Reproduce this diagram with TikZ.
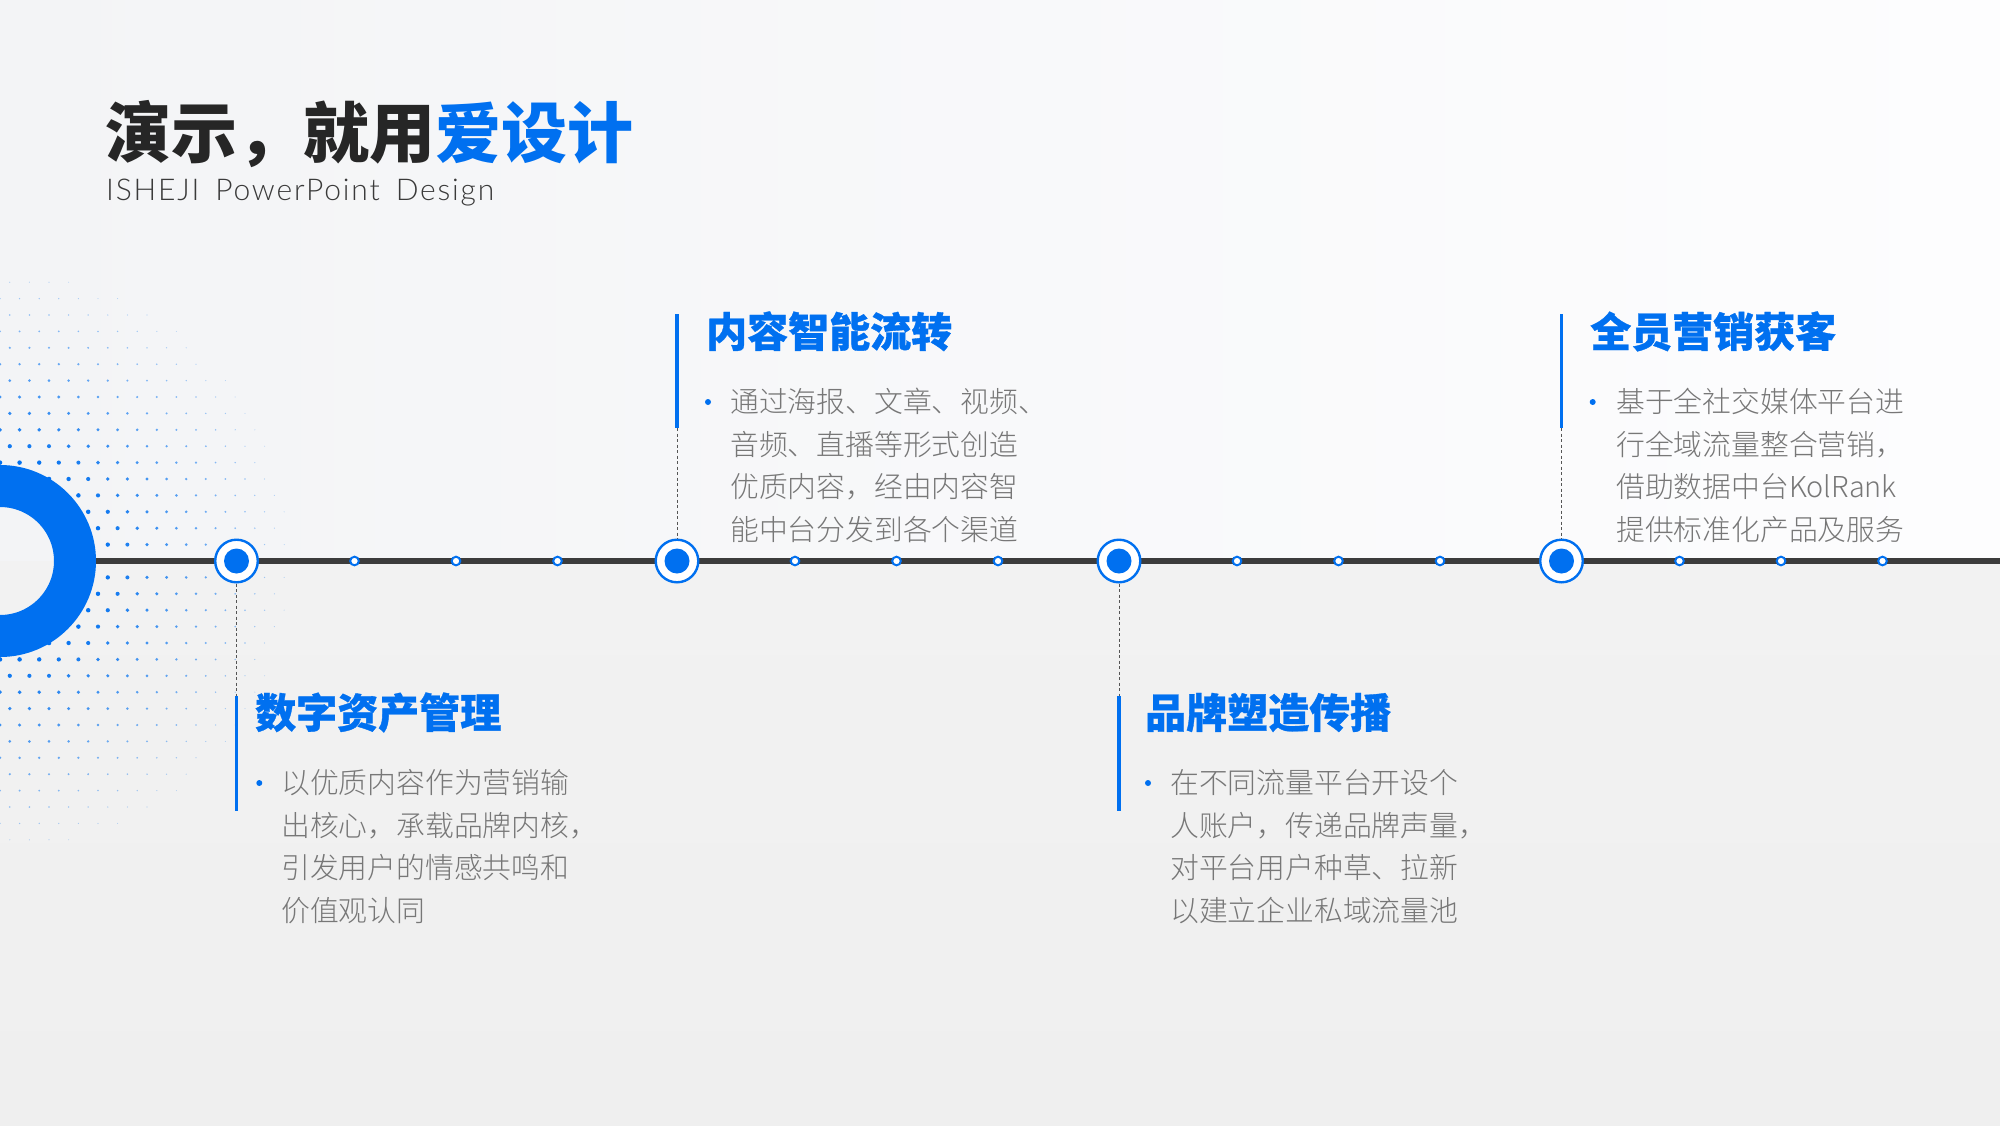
\documentclass[tikz,border=0pt]{standalone}
\usepackage{fontspec}
\newfontfamily\cjk{Noto Sans CJK SC}
\newfontfamily\cjkheavy{Noto Sans CJK SC}[BoldFeatures={FakeBold=0.8}]
\IfFontExistsTF{Noto Sans CJK SC Light}
  {\newfontfamily\cjklight{Noto Sans CJK SC Light}}
  {\IfFontExistsTF{Noto Sans CJK SC DemiLight}
    {\newfontfamily\cjklight{Noto Sans CJK SC DemiLight}}
    {\newfontfamily\cjklight{Noto Sans CJK SC}}}
\IfFontExistsTF{Lato Light}
  {\newfontfamily\subfont[LetterSpace=6]{Lato Light}}
  {\newfontfamily\subfont[LetterSpace=6]{Lato}}
\definecolor{brand}{HTML}{0070F0}
\definecolor{ink}{HTML}{262626}
\definecolor{subink}{HTML}{3A3A3A}
\definecolor{bodygray}{HTML}{777777}
\definecolor{linegray}{HTML}{3C3C3C}
\definecolor{dashgray}{HTML}{555555}
\definecolor{bgTL}{HTML}{F3F4F6}
\definecolor{bgTR}{HTML}{FDFDFE}
\definecolor{bgBT}{HTML}{F2F2F2}
\definecolor{bgBB}{HTML}{EFEFEF}
\begin{document}
\begin{tikzpicture}[x=1pt,y=-1pt,
  bignode/.style={circle, fill=white, draw=brand, line width=2.4pt, minimum size=42.6pt, inner sep=0pt},
  bigdot/.style={circle, fill=brand, minimum size=25pt, inner sep=0pt},
  smallnode/.style={circle, fill=white, draw=brand, line width=2pt, minimum size=8.6pt, inner sep=0pt},
  stembar/.style={draw=brand, line width=3.6pt},
  stemdash/.style={draw=dashgray, line width=0.9pt, dash pattern=on 3pt off 2.5pt},
  itemtitle/.style={anchor=base west, inner sep=0pt, text=brand, font=\cjkheavy\bfseries\fontsize{41}{45}\selectfont},
  bodyline/.style={anchor=base west, inner sep=0pt, text=bodygray, font=\cjklight\fontsize{28.8}{34}\selectfont},
  bulletdot/.style={circle, fill=brand, minimum size=6pt, inner sep=0pt},
  ringstyle/.style={circle, draw=brand, line width=42pt, minimum size=150pt, inner sep=0pt},
]
\useasboundingbox (0,0) rectangle (2000,1125);
% background
\shade[left color=bgTL, right color=bgTR] (0,0) rectangle (2000,561);
\shade[top color=bgBT, bottom color=bgBB] (0,561) rectangle (2000,1125);
% halftone dots
\foreach \k in {-17,...,17}{
  \foreach \n in {0,...,15}{
    \pgfmathsetmacro\dX{\n*19.6+9.8*mod(abs(\k),2)}
    \pgfmathsetmacro\dY{\k*16.4}
    \pgfmathsetmacro\dD{100*sqrt((\dX/100)^2+(\dY/100)^2)}
    \pgfmathsetmacro\dT{(\dD-95)/195}
    \ifdim\dT pt<0.999pt \ifdim\dT pt>0pt
      \pgfmathsetmacro\dR{2.3-1.8*\dT}
      \pgfmathsetmacro\dO{1-0.75*\dT}
      \fill[brand, opacity=\dO] (\dX,{561+\dY}) circle[radius=\dR pt];
    \fi\fi
  }
}
% ring and timeline
\node[ringstyle] (ring) at (0,561) {};
\coordinate (lineend) at (2000,561);
\draw[draw=linegray, line width=5.5pt] (ring.east) -- (lineend);
% nodes
\foreach \nx [count=\i] in {236.5,677,1119,1561.5}{
  \node[bignode] (n\i) at (\nx,561) {};
  \node[bigdot] (d\i) at (\nx,561) {};
  \foreach \off [count=\j] in {118,219.5,321}
    \node[smallnode] (s\i\j) at ({\nx+\off},561) {};
}
% stems
\coordinate (bt1) at (236.5,696); \coordinate (bb1) at (236.5,811);
\coordinate (bt2) at (677,314);   \coordinate (bb2) at (677,428);
\coordinate (bt3) at (1119,696);  \coordinate (bb3) at (1119,811);
\coordinate (bt4) at (1561.5,314); \coordinate (bb4) at (1561.5,428);
\draw[stemdash] (n1.south) -- (bt1); \draw[stembar] (bt1) -- (bb1);
\draw[stemdash] (bb2) -- (n2.north); \draw[stembar] (bt2) -- (bb2);
\draw[stemdash] (n3.south) -- (bt3); \draw[stembar] (bt3) -- (bb3);
\draw[stemdash] (bb4) -- (n4.north); \draw[stembar] (bt4) -- (bb4);
% titles
\node[anchor=base west, inner sep=0pt, font=\cjk\bfseries\fontsize{66}{70}\selectfont, text=ink] (title) at (105,157) {演示，就用\textcolor{brand}{爱设计}};
\node[anchor=base west, inner sep=0pt, font=\subfont\fontsize{30}{36}\selectfont, text=subink] (subtitle) at (106,200) {ISHEJI\hspace{16pt}PowerPoint\hspace{16pt}Design};
\node[itemtitle] (t1) at (255,728) {数字资产管理};
\node[itemtitle] (t2) at (706,347) {内容智能流转};
\node[itemtitle] (t3) at (1145,728) {品牌塑造传播};
\node[itemtitle] (t4) at (1590,347) {全员营销获客};
% bullets
\node[bulletdot] (u1) at (259.3,783) {};
\node[bulletdot] (u2) at (708,402) {};
\node[bulletdot] (u3) at (1148,783) {};
\node[bulletdot] (u4) at (1592.7,402) {};
% body text
\foreach \ln [count=\i from 0] in {以优质内容作为营销输,出核心，承载品牌内核，,引发用户的情感共鸣和,价值观认同}
  \node[bodyline] (a\i) at (281,{793.8+\i*42.5}) {\ln};
\foreach \ln [count=\i from 0] in {通过海报、文章、视频、,音频、直播等形式创造,优质内容，经由内容智,能中台分发到各个渠道}
  \node[bodyline] (b\i) at (730,{412.8+\i*42.5}) {\ln};
\foreach \ln [count=\i from 0] in {在不同流量平台开设个,人账户，传递品牌声量，,对平台用户种草、拉新,以建立企业私域流量池}
  \node[bodyline] (c\i) at (1170,{793.8+\i*42.5}) {\ln};
\foreach \ln [count=\i from 0] in {基于全社交媒体平台进,行全域流量整合营销，,借助数据中台KolRank,提供标准化产品及服务}
  \node[bodyline] (e\i) at (1616,{412.8+\i*42.5}) {\ln};
\end{tikzpicture}
\end{document}
